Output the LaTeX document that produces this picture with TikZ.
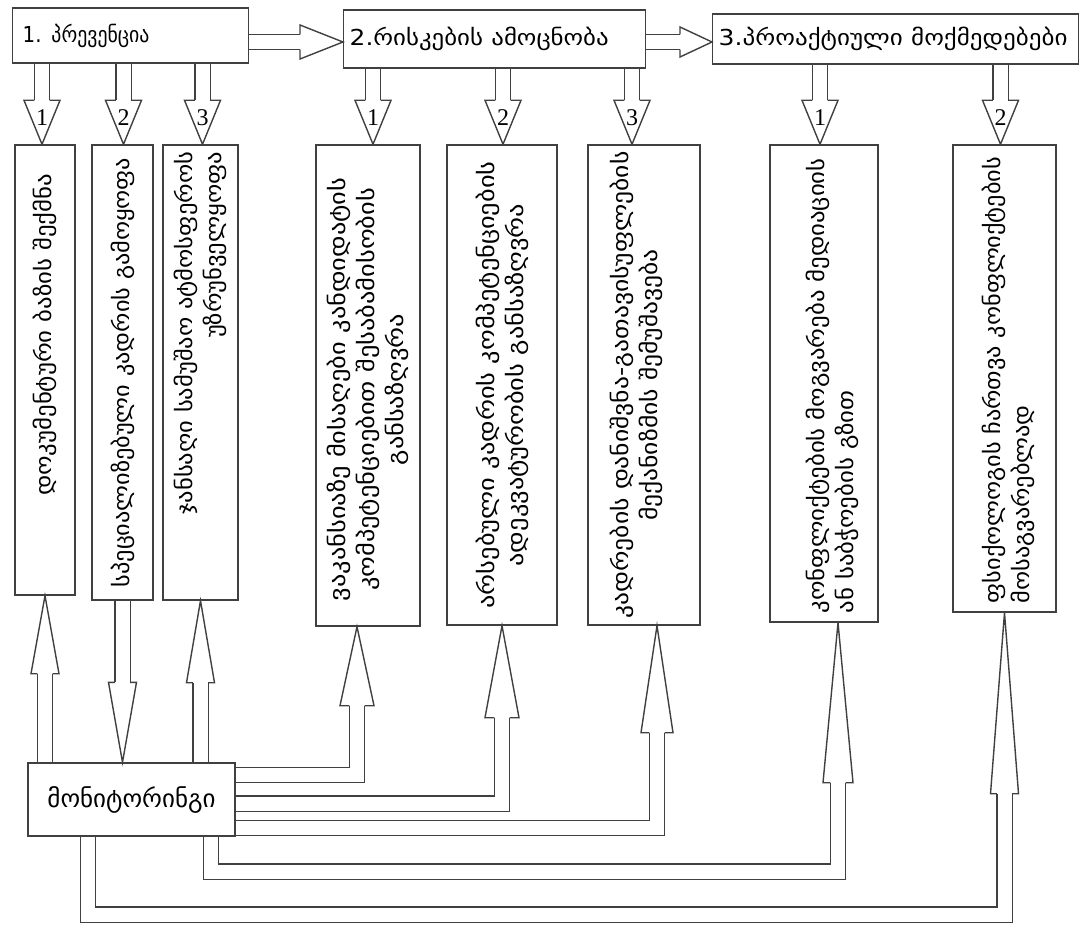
\documentclass[tikz,border=0pt]{standalone}
\usepackage{fontspec}
\setmainfont{DejaVu Sans}
\newfontfamily\numfont{Liberation Serif}
\usetikzlibrary{calc}

\tikzset{
  box/.style={draw=black!75, line width=0.7pt, fill=white, inner sep=0pt},
  topbox/.style={box, text width=#1, inner xsep=3pt, align=left, anchor=west,
    font=\fontsize{11}{13}\selectfont},
  vtext/.style={rotate=90, xscale=1.2, align=center, inner sep=0pt, font=\fontsize{11}{14.5}\selectfont},
  num/.style={inner sep=0pt, font=\numfont\fontsize{12}{12}\selectfont},
  shaft/.style={draw=black!75, line width=0.7pt, double=white, double distance=7pt},
  head/.style={draw=black!75, line width=0.7pt, fill=white}
}

% hollow arrow head: base, tip, half width
\newcommand{\blockhead}[3]{%
  \filldraw[head] ($(#1)!3.85pt!90:(#2)$) -- ($(#1)!#3!90:(#2)$) -- (#2)
    -- ($(#1)!#3!-90:(#2)$) -- ($(#1)!3.85pt!-90:(#2)$);}
% straight hollow arrow: start, tip, head length, half width of the head
\newcommand{\blockarrow}[4]{%
  \coordinate (ba) at ($(#2)!#3!(#1)$);
  \draw[shaft] (#1) -- (ba);
  \blockhead{ba}{#2}{#4}}

\begin{document}
\begin{tikzpicture}[x=0.5pt, y=-0.5pt]
\useasboundingbox (0,0) rectangle (1086,925);

% les trois etapes
\node[topbox=108pt, inner xsep=5pt, minimum height=27.5pt] (t1) at (12,35.5) {\scalebox{0.9}[1]{1. პრევენცია}};
\node[topbox=145pt, minimum height=29pt] (t2) at (343,39) {\scalebox{1.13}[1]{2.რისკების ამოცნობა}};
\node[topbox=177pt, minimum height=25pt] (t3) at (712,39) {\scalebox{1.14}[1]{3.პროაქტიული მოქმედებები}};

% les cases verticales
\node[box, minimum width=30pt, minimum height=225pt] (b1) at (45,370) {};
\node[box, minimum width=30.5pt, minimum height=227.5pt] (b2) at (122.5,372.5) {};
\node[box, minimum width=37.5pt, minimum height=227.5pt] (b3) at (200.5,372.5) {};
\node[box, minimum width=52pt, minimum height=240.5pt] (b4) at (368,385.5) {};
\node[box, minimum width=55pt, minimum height=240pt] (b5) at (502,385) {};
\node[box, minimum width=56pt, minimum height=240pt] (b6) at (644,385) {};
\node[box, minimum width=54pt, minimum height=238.5pt] (b7) at (824,383.5) {};
\node[box, minimum width=51.5pt, minimum height=233.5pt] (b8) at (1004.5,378.5) {};

% textes des cases
\node[vtext, xscale=0.94] (x1) at ([yshift=17.5pt]b1.center) {დოკუმენტური ბაზის შექმნა};
\node[vtext, xscale=0.92] (x2) at (b2.center) {სპეციალიზებული კადრის გამოყოფა};
\node[vtext, xscale=0.93, align=right, anchor=east] (x3) at ([yshift=-3.5pt]b3.north) {ჯანსაღი სამუშაო ატმოსფეროს\\უზრუნველყოფა};
\node[vtext] (x4) at ([yshift=-2pt]b4.center) {ვაკანსიაზე მისაღები კანდიდატის\\კომპეტენციებით შესაბამისობის\\განსაზღვრა};
\node[vtext] (x5) at (b5.center) {არსებული კადრის კომპეტენციების\\ადეკვატურობის განსაზღვრა};
\node[vtext, xscale=0.97] (x6) at ([xshift=-4pt]b6.center) {კადრების დანიშვნა-გათავისუფლების\\მექანიზმის შემუშავება};
\node[vtext, xscale=0.94, align=left, anchor=west] (x7) at ([xshift=4pt,yshift=4.5pt]b7.south) {კონფლიქტების მოგვარება მედიაციის\\ან საბჭოების გზით};
\node[vtext, xscale=0.92, align=left, anchor=west] (x8) at ([xshift=2pt,yshift=4.5pt]b8.south) {ფსიქოლოგის ჩართვა კონფლიქტების\\მოსაგვარებლად};

% monitoring
\node[box, minimum width=103.5pt, minimum height=36.5pt, font=\fontsize{12.5}{14}\selectfont] (mon) at (131.5,799.5) {მონიტორინგი};

% fleches entre les etapes
\coordinate (h1) at ([yshift=-3.25pt]t1.east);
\coordinate (h1e) at (t2.west |- h1);
\blockarrow{h1}{h1e}{21.5pt}{8.5pt}
\coordinate (h2) at ([yshift=-1.5pt]t2.east);
\coordinate (h2e) at (t3.west |- h2);
\blockarrow{h2}{h2e}{16pt}{7.5pt}

% fleches vers les cases
\coordinate (d1) at ([xshift=-1.5pt]b1.north); \coordinate (s1) at (d1 |- t1.south);
\blockarrow{s1}{d1}{22pt}{9pt}
\node[num] (n1) at ([yshift=13.5pt]d1) {1};
\coordinate (d2) at ([xshift=0.5pt]b2.north); \coordinate (s2) at (d2 |- t1.south);
\blockarrow{s2}{d2}{22pt}{9pt}
\node[num] (n2) at ([yshift=13.5pt]d2) {2};
\coordinate (d3) at ([xshift=1pt]b3.north); \coordinate (s3) at (d3 |- t1.south);
\blockarrow{s3}{d3}{22pt}{9pt}
\node[num] (n3) at ([yshift=13.5pt]d3) {3};
\coordinate (d4) at ([xshift=2.5pt]b4.north); \coordinate (s4) at (d4 |- t2.south);
\blockarrow{s4}{d4}{22pt}{9pt}
\node[num] (n4) at ([yshift=13.5pt]d4) {1};
\coordinate (d5) at ([xshift=0.5pt]b5.north); \coordinate (s5) at (d5 |- t2.south);
\blockarrow{s5}{d5}{22pt}{9pt}
\node[num] (n5) at ([yshift=13.5pt]d5) {2};
\coordinate (d6) at ([xshift=-6pt]b6.north); \coordinate (s6) at (d6 |- t2.south);
\blockarrow{s6}{d6}{22pt}{9pt}
\node[num] (n6) at ([yshift=13.5pt]d6) {3};
\coordinate (d7) at ([xshift=-2pt]b7.north); \coordinate (s7) at (d7 |- t3.south);
\blockarrow{s7}{d7}{22pt}{9pt}
\node[num] (n7) at ([yshift=13.5pt]d7) {1};
\coordinate (d8) at ([xshift=-2pt]b8.north); \coordinate (s8) at (d8 |- t3.south);
\blockarrow{s8}{d8}{22pt}{9pt}
\node[num] (n8) at ([yshift=13.5pt]d8) {2};

% fleches du monitoring
\coordinate (u1) at (b1.south |- mon.north);
\blockarrow{u1}{b1.south}{39pt}{7pt}
\coordinate (u2) at (b2.south |- mon.north);
\blockarrow{b2.south}{u2}{40pt}{7pt}
\coordinate (u3) at (b3.south |- mon.north);
\blockarrow{u3}{b3.south}{41pt}{7pt}

% fleches coudees
\coordinate (p4) at ([xshift=-5.5pt]b4.south); \coordinate (q4) at ([yshift=-39.5pt]p4);
\coordinate (m4) at ([yshift=12.25pt]mon.east);
\draw[shaft] (m4) -| (q4);
\blockhead{q4}{p4}{8.5pt}
\coordinate (p5) at (b5.south); \coordinate (q5) at ([yshift=-46pt]p5);
\coordinate (m5) at ([yshift=-2pt]mon.east);
\draw[shaft] (m5) -| (q5);
\blockhead{q5}{p5}{8.5pt}
\coordinate (p6) at ([xshift=6.5pt]b6.south); \coordinate (q6) at ([yshift=-53.5pt]p6);
\coordinate (m6) at ([yshift=-14.25pt]mon.east);
\draw[shaft] (m6) -| (q6);
\blockhead{q6}{p6}{8pt}
\coordinate (p7) at ([xshift=7pt]b7.south); \coordinate (q7) at ([yshift=-80pt]p7);
\coordinate (m7) at ([xshift=39.75pt]mon.south);
\draw[shaft] (m7) -- ++(0,35) -| (q7);
\blockhead{q7}{p7}{7.5pt}
\coordinate (p8) at (b8.south); \coordinate (q8) at ([yshift=-90.5pt]p8);
\coordinate (m8) at ([xshift=-21.75pt]mon.south);
\draw[shaft] (m8) -- ++(0,78) -| (q8);
\blockhead{q8}{p8}{7pt}
\end{tikzpicture}
\end{document}
